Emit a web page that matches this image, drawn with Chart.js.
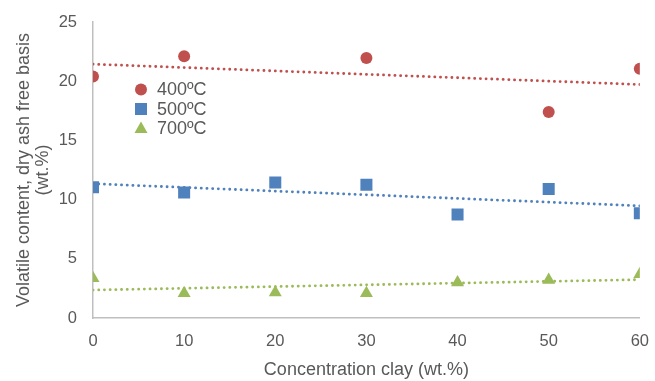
<!DOCTYPE html>
<html>
<head>
<meta charset="utf-8">
<script src="https://cdn.jsdelivr.net/npm/chart.js@4"></script>
<style>
  html, body { margin: 0; padding: 0; background: #fff; }
  #wrap { width: 655px; height: 381px; }
</style>
</head>
<body>
<div id="wrap"><canvas id="grafico"></canvas></div>
<script>
// valores
const argila400 = [0, 10, 30, 50, 60];
const volatil400 = [20.4, 22.1, 21.95, 17.4, 21.05];
const argila = [0, 10, 20, 30, 40, 50, 60];
const volatil500 = [11.05, 10.6, 11.45, 11.25, 8.75, 10.9, 8.85];
const volatil700 = [3.35, 2.1, 2.15, 2.1, 3.0, 3.2, 3.7];
const rotulos = ["400ºC", "500ºC", "700ºC"];
const cores = ["#C0504D", "#4F81BD", "#9BBB59"];
const estilos = ["circle", "rect", "triangle"];
const raios = [6, 8.5, 7.5];

const corTexto = "#595959";
const familia = "'Liberation Sans', Arial, sans-serif";
const fonte = { family: familia, size: 16.5 };
const fonteTitulo = { family: familia, size: 18, lineHeight: 1.05 };

function pontos(xs, ys) {
	return xs.map((x, i) => ({ x: x, y: ys[i] }));
}

// linha de tendência linear (mínimos quadrados), como no Excel
function tendencia(xs, ys) {
	var n = xs.length;
	var mx = xs.reduce((a, b) => a + b, 0) / n;
	var my = ys.reduce((a, b) => a + b, 0) / n;
	var sxy = 0, sxx = 0;
	for (var i = 0; i < n; i++) {
		sxy += (xs[i] - mx) * (ys[i] - my);
		sxx += (xs[i] - mx) * (xs[i] - mx);
	}
	var b = sxy / sxx;
	var a = my - b * mx;
	return [{ x: 0, y: a }, { x: 60, y: a + b * 60 }];
}

const series = [
	[argila400, volatil400],
	[argila, volatil500],
	[argila, volatil700],
];

var datasets = [];
series.forEach(function (s, i) {
	datasets.push({
		label: "tend" + i,
		data: tendencia(s[0], s[1]),
		showLine: true,
		borderColor: cores[i],
		borderWidth: 2.8,
		borderDash: [0.1, 5.6],
		borderCapStyle: "round",
		pointRadius: 0,
		order: 1,
	});
});
series.forEach(function (s, i) {
	datasets.push({
		label: rotulos[i],
		data: pontos(s[0], s[1]),
		pointStyle: estilos[i],
		pointRadius: raios[i],
		pointHoverRadius: raios[i],
		backgroundColor: cores[i],
		borderColor: cores[i],
		borderWidth: 0,
		order: 2,
	});
});

// legenda desenhada dentro da área do gráfico
const legendaInterna = {
	id: "legendaInterna",
	afterDatasetsDraw(chart) {
		var ctx = chart.ctx;
		ctx.save();
		ctx.font = fonteTitulo.size + "px " + familia;
		ctx.textBaseline = "middle";
		for (var i = 0; i < 3; i++) {
			var mx = 141, my = 89.5 + i * 19.5;
			ctx.fillStyle = cores[i];
			ctx.beginPath();
			if (i == 0) {
				ctx.arc(mx, my, raios[0], 0, Math.PI * 2);
			} else if (i == 1) {
				ctx.rect(mx - 6, my - 6, 12, 12);
			} else {
				ctx.moveTo(mx, my - 7);
				ctx.lineTo(mx + 6.5, my + 4.5);
				ctx.lineTo(mx - 6.5, my + 4.5);
				ctx.closePath();
			}
			ctx.fill();
			ctx.fillStyle = corTexto;
			ctx.fillText(rotulos[i], 157, my + 1);
		}
		ctx.restore();
	},
};

new Chart(document.getElementById("grafico"), {
	type: "scatter",
	data: { datasets: datasets },
	plugins: [legendaInterna],
	options: {
		responsive: true,
		maintainAspectRatio: false,
		animation: false,
		layout: { padding: { top: 22, right: 14, left: 0, bottom: 0 } },
		plugins: {
			legend: { display: false },
			tooltip: { enabled: false },
		},
		scales: {
			x: {
				type: "linear",
				min: 0,
				max: 60,
				ticks: { stepSize: 10, color: corTexto, font: fonte, padding: 6 },
				grid: { display: false },
				border: { display: true, color: "#BFBFBF", width: 1.5 },
				title: {
					display: true,
					text: "Concentration clay (wt.%)",
					color: corTexto,
					font: fonteTitulo,
					padding: { top: 4, bottom: 2 },
				},
				afterFit: function (scale) { scale.height = 63; },
			},
			y: {
				min: 0,
				max: 25,
				ticks: { stepSize: 5, color: corTexto, font: fonte, padding: 8 },
				grid: { display: false },
				border: { display: true, color: "#BFBFBF", width: 1.5 },
				title: {
					display: true,
					text: ["Volatile content, dry ash free basis", "(wt.%)"],
					color: corTexto,
					font: fonteTitulo,
					padding: { top: 15, bottom: 0 },
				},
				afterFit: function (scale) { scale.width = 93; },
			},
		},
	},
});
</script>
</body>
</html>
